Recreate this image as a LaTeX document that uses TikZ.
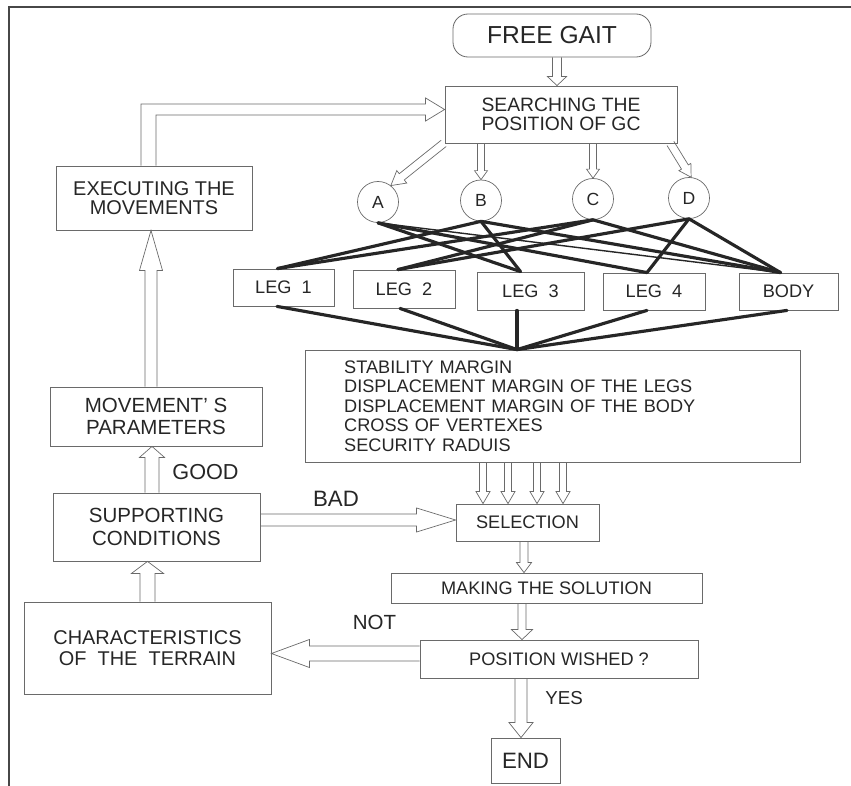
\documentclass[tikz,border=0pt]{standalone}
\usepackage{fontspec}
\setmainfont{Liberation Sans}
\usetikzlibrary{calc}
\definecolor{ink}{HTML}{262626}
\definecolor{edgec}{HTML}{6A6A6A}
\newcommand\fs[2]{\fontsize{#1}{#2}\selectfont}
% open (outline) block arrow from #1 to #2: shaft half width #3, head half width #4, head length #5 (px)
\newcommand\oarrow[5]{%
  \coordinate (oahb) at ($(#2)!{#5*0.3mm}!(#1)$);
  \draw[oline] ($(#1)!{#3*0.3mm}!90:(#2)$) -- ($(oahb)!{#3*0.3mm}!90:(#2)$)
     -- ($(oahb)!{#4*0.3mm}!90:(#2)$) -- (#2) -- ($(oahb)!{#4*0.3mm}!-90:(#2)$)
     -- ($(oahb)!{#3*0.3mm}!-90:(#2)$) -- ($(#1)!{#3*0.3mm}!-90:(#2)$);
}
\begin{document}
\begin{tikzpicture}[x=0.3mm,y=-0.3mm,
  box/.style={draw=edgec,line width=0.7pt,text=ink,inner sep=0pt,align=center},
  sz/.style 2 args={minimum width=#1*0.3mm,minimum height=#2*0.3mm},
  circ/.style={circle,draw=edgec,line width=0.6pt,text=ink,inner sep=0pt,minimum size=41*0.3mm,font=\fs{15}{15}},
  lab/.style={text=ink,inner sep=0pt},
  oline/.style={draw=edgec,line width=0.6pt,line join=miter},
  conn/.style={draw=ink,line width=2.7pt,line cap=round},
  frame/.style={draw=ink!85,line width=1.1pt}]
\useasboundingbox (0,0) rectangle (851,786);
% frame
\coordinate (fr1) at (9,786);
\coordinate (fr2) at (9,7);
\coordinate (fr3) at (851,7);
\draw[frame] (fr1) -- (fr2) -- (fr3);

% nodes
\node[box,sz={198}{43},rounded corners=15*0.3mm,font=\fs{21}{21}] (free) at (552,35.5) {FREE GAIT};
\node[box,sz={232}{57},font=\fs{16.5}{16.5}] (search) at (561,114.5) {SEARCHING THE\\POSITION OF GC};
\node[box,sz={196}{64},font=\fs{17}{16.5}] (exec) at (154,198) {EXECUTING THE\\MOVEMENTS};
\node[circ] (A) at (378,202) {A};
\node[circ] (B) at (481,200.5) {B};
\node[circ] (C) at (593,199) {C};
\node[circ] (D) at (689,198) {D};
\node[box,sz={101}{37},font=\fs{15.5}{15.5}] (leg1) at (283.5,287.5) {LEG\ \ 1};
\node[box,sz={102}{38},font=\fs{15.5}{15.5}] (leg2) at (404,289) {LEG\ \ 2};
\node[box,sz={107}{38},font=\fs{15.5}{15.5}] (leg3) at (530.5,291) {LEG\ \ 3};
\node[box,sz={102}{37},font=\fs{15.5}{15.5}] (leg4) at (654,291.5) {LEG\ \ 4};
\node[box,sz={99}{37},font=\fs{15.5}{15.5}] (body) at (788.5,291.5) {BODY};
\node[box,sz={495}{112},align=left,text width=125mm,font=\fs{15.5}{16.6}] (crit) at (552.5,406)
  {STABILITY MARGIN\\DISPLACEMENT MARGIN OF THE LEGS\\DISPLACEMENT MARGIN OF THE BODY\\CROSS OF VERTEXES\\SECURITY RADUIS};
\node[box,sz={143}{37},font=\fs{15.5}{15.5}] (sel) at (527.5,522.5) {SELECTION};
\node[box,sz={311}{30},font=\fs{15.5}{15.5}] (making) at (546.5,588) {MAKING THE SOLUTION};
\node[box,sz={278}{38},font=\fs{15.5}{15.5}] (position) at (559,659) {POSITION WISHED ?};
\node[box,sz={69}{45},font=\fs{19}{19}] (end) at (525.5,760.5) {END};
\node[box,sz={212}{59},font=\fs{17.5}{19}] (move) at (156,416.5) {MOVEMENT' S\\PARAMETERS};
\node[box,sz={207}{68},font=\fs{17.5}{19}] (supp) at (156.5,527) {SUPPORTING\\CONDITIONS};
\node[box,sz={247}{92},font=\fs{17}{17.5}] (char) at (147.5,648) {CHARACTERISTICS\\OF\ \ THE\ \ TERRAIN};

% labels
\node[lab,font=\fs{18.5}{18.5}] (good) at (205.5,472) {GOOD};
\node[lab,font=\fs{19}{19}] (bad) at (336,499) {BAD};
\node[lab,font=\fs{17.5}{17.5}] (not) at (374.5,622) {NOT};
\node[lab,font=\fs{16}{16}] (yes) at (564,698) {YES};

% thick connectors: circles to legs/body
\coordinate (l1t) at ($(leg1.north)+(-6,0)$);
\coordinate (l2t) at ($(leg2.north)+(-6,0)$);
\coordinate (l3t) at ($(leg3.north)+(-10,0)$);
\coordinate (l4t) at ($(leg4.north)+(-7,0)$);
\coordinate (bdt) at ($(body.north)+(-8,0)$);
\draw[conn] (A.south) -- (l3t);
\draw[conn] (A.south) -- (l4t);
\draw[conn,line width=1.2pt] (A.south) -- (bdt);
\draw[conn] (B.south) -- (l1t);
\draw[conn] (B.south) -- (l3t);
\draw[conn] (B.south) -- (bdt);
\draw[conn] (C.south) -- (l1t);
\draw[conn] (C.south) -- (l2t);
\draw[conn] (C.south) -- (bdt);
\draw[conn] (D.south) -- (l2t);
\draw[conn] (D.south) -- (l4t);
\draw[conn] (D.south) -- (bdt);
% legs/body to criteria
\coordinate (cv) at ($(crit.north)+(-35.5,0)$);
\draw[conn] ($(leg1.south)+(-6.5,0)$) -- (cv);
\draw[conn] ($(leg2.south)+(-4,0)$) -- (cv);
\draw[conn] ($(leg3.south)+(-13.5,0)$) -- (cv);
\draw[conn] ($(leg4.south)+(-7,0)$) -- (cv);
\draw[conn] ($(body.south)+(-1.5,0)$) -- (cv);

% open arrows
\coordinate (f1) at ($(free.south)+(5,0)$);
\coordinate (f2) at (f1 |- search.north);
\oarrow{f1}{f2}{4.5}{9.5}{9}
\coordinate (sa) at ($(search.south west)+(-1,0)$);
\oarrow{sa}{A.52}{4}{8}{14}
\coordinate (sb) at (B.north |- search.south);
\oarrow{sb}{B.north}{3.5}{6.5}{9}
\coordinate (sc) at (C.north |- search.south);
\oarrow{sc}{C.north}{3.5}{6.5}{9}
\coordinate (sd) at ($(search.south east)+(-7,0)$);
\oarrow{sd}{D.84}{4}{7}{12}
% return arrow EXECUTING -> SEARCHING
\coordinate (rtip) at ($(search.west)+(0,-5)$);
\coordinate (rbase) at ($(exec.north)+(-5.5,0)$);
\draw[oline] ($(rbase)+(-7.5,0)$) |- ($(rtip)+(-19,-5.5)$) -- ($(rtip)+(-19,-11.5)$) -- (rtip)
   -- ($(rtip)+(-19,11.5)$) -- ($(rtip)+(-19,5.5)$) -| ($(rbase)+(7.5,0)$);
% left column
\coordinate (m1) at ($(move.north)+(-5,0)$);
\coordinate (m2) at (m1 |- exec.south);
\oarrow{m1}{m2}{6}{11.5}{40}
\coordinate (s1) at ($(supp.north)+(-4.5,0)$);
\coordinate (s2) at (s1 |- move.south);
\oarrow{s1}{s2}{7}{12.5}{11}
\coordinate (c1) at (char.north);
\coordinate (c2) at (c1 |- supp.south);
\oarrow{c1}{c2}{7.5}{16}{12}
% BAD
\coordinate (b1) at ($(supp.east)+(0,-7)$);
\coordinate (b2) at (b1 -| sel.west);
\oarrow{b1}{b2}{6}{12}{39}
% criteria to selection
\foreach \xx [count=\i] in {483,508,537,563}{
  \coordinate (k\i a) at (\xx,0 |- crit.south);
  \coordinate (k\i b) at (\xx,0 |- sel.north);
  \oarrow{k\i a}{k\i b}{3.5}{7}{12}
}
\coordinate (e1) at ($(sel.south)+(-3.5,0)$);
\coordinate (e2) at (e1 |- making.north);
\oarrow{e1}{e2}{4}{7.5}{10}
\coordinate (g1) at ($(making.south)+(-24.5,0)$);
\coordinate (g2) at (g1 |- position.north);
\oarrow{g1}{g2}{4}{10.5}{10}
% NOT
\coordinate (n1) at ($(position.west)+(0,-5.5)$);
\coordinate (n2) at (n1 -| char.east);
\oarrow{n1}{n2}{7.5}{14}{38}
% YES
\coordinate (y1) at ($(position.south -| end.north)+(-4.5,0)$);
\coordinate (y2) at ($(end.north)+(-4.5,0)$);
\oarrow{y1}{y2}{6}{12}{15}
\end{tikzpicture}
\end{document}
